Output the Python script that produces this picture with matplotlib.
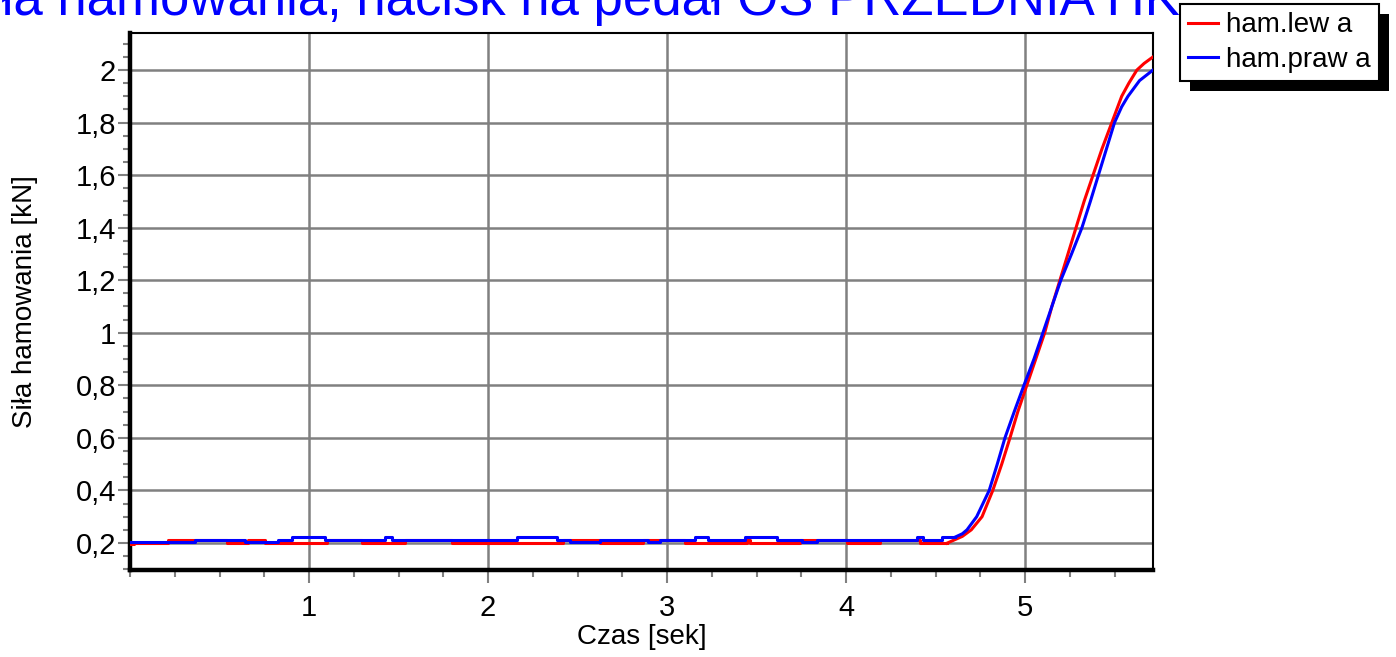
import matplotlib
matplotlib.use("Agg")
import matplotlib.pyplot as plt
from matplotlib.patches import Rectangle
from matplotlib.ticker import FuncFormatter, MultipleLocator
import numpy as np

plt.rcParams['font.family'] = ['Liberation Sans', 'DejaVu Sans']

title = "Siła hamowania, nacisk na pedał OŚ PRZEDNIA HK"
labels = ["ham.lew a", "ham.praw a"]

# flat part: step change times [s] and levels [kN]
lewa_t = [0.0, 0.022, 0.212, 0.542, 0.659, 0.754, 1.101, 1.296, 1.536, 1.799,
          2.419, 2.626, 2.866, 3.101, 3.447, 3.464, 3.743, 4.006, 4.190, 4.413, 4.564]
lewa_v = [0.195, 0.199, 0.21, 0.199, 0.21, 0.199, 0.21, 0.199, 0.21, 0.199,
          0.21, 0.199, 0.21, 0.199, 0.21, 0.199, 0.21, 0.199, 0.21, 0.199, 0.199]

prawa_t = [0.0, 0.363, 0.642, 0.827, 0.905, 1.089, 1.425, 1.464, 2.162, 2.385,
           2.458, 2.626, 2.894, 2.961, 3.156, 3.229, 3.436, 3.615, 3.754, 3.838,
           4.397, 4.430, 4.536, 4.609]
prawa_v = [0.204, 0.21, 0.204, 0.21, 0.222, 0.21, 0.222, 0.21, 0.222, 0.21,
           0.204, 0.21, 0.204, 0.21, 0.222, 0.21, 0.222, 0.21, 0.204, 0.21,
           0.222, 0.21, 0.222, 0.222]

# rising part (pedal pressed)
lewa_rt = [4.564, 4.60, 4.65, 4.70, 4.76, 4.82, 4.87, 4.916, 4.96, 5.01, 5.06, 5.11,
           5.15, 5.195, 5.24, 5.285, 5.33, 5.38, 5.43, 5.485, 5.54, 5.58, 5.625,
           5.665, 5.715]
lewa_rv = [0.199, 0.21, 0.225, 0.25, 0.30, 0.40, 0.50, 0.60, 0.70, 0.80, 0.90, 1.00,
           1.10, 1.20, 1.30, 1.40, 1.50, 1.60, 1.70, 1.80, 1.90, 1.95, 2.00,
           2.025, 2.05]
prawa_rt = [4.609, 4.65, 4.676, 4.73, 4.80, 4.845, 4.888, 4.94, 4.994, 5.05, 5.10,
            5.15, 5.20, 5.26, 5.318, 5.365, 5.41, 5.455, 5.50, 5.54, 5.575, 5.64, 5.715]
prawa_rv = [0.222, 0.235, 0.25, 0.30, 0.40, 0.50, 0.60, 0.70, 0.80, 0.90, 1.00,
            1.10, 1.20, 1.30, 1.40, 1.50, 1.60, 1.70, 1.80, 1.86, 1.90, 1.96, 2.00]

W, H = 1396, 657
fig = plt.figure(figsize=(W / 100, H / 100), dpi=100)
ax = fig.add_axes([130 / W, 1 - 570 / H, (1153 - 130) / W, (570 - 33) / H])

red, blue = "#ff0000", "#0000ff"
ax.step(lewa_t, lewa_v, where="post", color=red, lw=2.2, zorder=3)
ax.plot(lewa_rt, lewa_rv, color=red, lw=2.2, zorder=3, label=labels[0])
ax.step(prawa_t, prawa_v, where="post", color=blue, lw=2.2, zorder=4)
ax.plot(prawa_rt, prawa_rv, color=blue, lw=2.2, zorder=4, label=labels[1])

ax.set_xlim(0, 5.715)
ax.set_ylim(0.097, 2.141)
ax.set_xticks([1, 2, 3, 4, 5])
ax.xaxis.set_minor_locator(MultipleLocator(0.25))
ax.yaxis.set_major_locator(MultipleLocator(0.2))
ax.yaxis.set_minor_locator(MultipleLocator(0.05))
comma = FuncFormatter(lambda v, p: f"{v:g}".replace(".", ","))
ax.xaxis.set_major_formatter(comma)
ax.yaxis.set_major_formatter(comma)

ax.grid(True, which="major", color="#808080", lw=1.8, zorder=1)
ax.set_axisbelow(True)
ax.tick_params(which="major", direction="out", length=9, width=1.5,
               color="#808080", labelsize=21, pad=1)
ax.tick_params(axis="x", which="major", pad=8)
ax.tick_params(which="minor", direction="out", length=5, width=1.5, color="#808080")

for s in ("left", "bottom"):
    ax.spines[s].set_linewidth(3.2)
for s in ("top", "right"):
    ax.spines[s].set_linewidth(1.5)

ax.set_xlabel("Czas [sek]", fontsize=20, labelpad=2)
ax.set_ylabel("Siła hamowania [kN]", fontsize=20, labelpad=27)

ax.text(1180 / W, 1 - 15 / H, title, transform=fig.transFigure, ha="right",
        va="baseline", color=blue, fontsize=38, clip_on=False, zorder=4)

leg = ax.legend(loc="upper left", bbox_to_anchor=(1180 / W, 1 - 4 / H),
                bbox_transform=fig.transFigure, borderaxespad=0, fontsize=20,
                frameon=True, fancybox=False, edgecolor="black", framealpha=1,
                handlelength=1.05, handletextpad=0.3, labelspacing=0.3,
                borderpad=0.3)
leg.get_frame().set_linewidth(1.5)
leg.set_zorder(6)

fig.canvas.draw()
bb = leg.get_window_extent().transformed(fig.transFigure.inverted())
shadow = Rectangle((bb.x0 + 10 / W, bb.y0 - 10 / H), bb.width, bb.height,
                   transform=fig.transFigure, facecolor="black", edgecolor="none",
                   zorder=5.5, clip_on=False)
ax.add_patch(shadow)
fig.savefig("out.png", dpi=100)
